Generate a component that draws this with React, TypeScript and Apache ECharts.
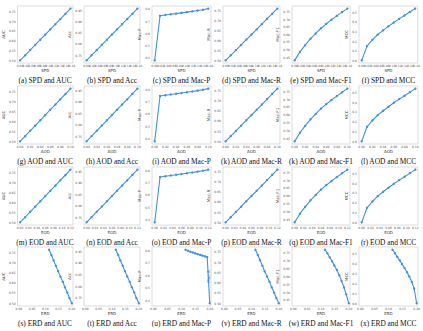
import React, { useEffect, useRef } from "react";
import * as echarts from "echarts";

// Fairness metric values at the 11 mitigation levels
const SPD = [0.0, 0.0175, 0.035, 0.0525, 0.07, 0.0875, 0.105, 0.1225, 0.14, 0.1575, 0.175];
const AOD = [0.0, 0.01, 0.02, 0.03, 0.04, 0.05, 0.06, 0.07, 0.08, 0.09, 0.1];
const EOD = [0.0, 0.012, 0.024, 0.036, 0.048, 0.06, 0.072, 0.084, 0.096, 0.108, 0.12];
const ERD = [0.2, 0.191, 0.183, 0.174, 0.166, 0.157, 0.148, 0.14, 0.131, 0.123, 0.114];

// Performance metric values at the same levels
const AUC = [0.5, 0.526, 0.553, 0.579, 0.606, 0.632, 0.659, 0.685, 0.712, 0.738, 0.765];
const ACC = [0.728, 0.751, 0.774, 0.797, 0.82, 0.843, 0.866, 0.889, 0.912, 0.935, 0.958];
const MAC_P = [0.38, 0.746, 0.752, 0.758, 0.764, 0.77, 0.776, 0.782, 0.789, 0.796, 0.805];
const MAC_R = [0.5, 0.526, 0.552, 0.578, 0.605, 0.631, 0.657, 0.683, 0.71, 0.736, 0.762];
const MAC_F1 = [0.43, 0.486, 0.53, 0.572, 0.607, 0.641, 0.67, 0.697, 0.722, 0.747, 0.77];
const MCC = [0.0, 0.15, 0.215, 0.27, 0.315, 0.357, 0.397, 0.435, 0.47, 0.507, 0.543];

const FAIR_NAMES = ["SPD", "AOD", "EOD", "ERD"];
const FAIR_VALUES = [SPD, AOD, EOD, ERD];
const PERF_NAMES = ["AUC", "Acc", "Mac-P", "Mac-R", "Mac-F1", "MCC"];
const PERF_VALUES = [AUC, ACC, MAC_P, MAC_R, MAC_F1, MCC];
const LETTERS = [
  "a", "b", "c", "d", "e", "f",
  "g", "h", "i", "k", "k", "l",
  "m", "n", "o", "p", "q", "r",
  "s", "t", "u", "v", "w", "x",
];

// layout
const COL_LEFT = [17, 84, 152, 223, 292, 359];
const COL_WIDTH = [56, 56, 59, 57, 58, 59];
const ROW_TOP = [6, 86, 167, 247];
const ROW_HEIGHT = [57, 58, 58, 59];
const CAPTION_Y = [80, 161, 242, 323];
const PERF_SPLIT = [5, 5, 5, 5, 7, 5];

const LINE = "#4192e0";

export default function App() {
  const ref = useRef<HTMLDivElement>(null);
  useEffect(() => {
    if (!ref.current) return;
    const chart = echarts.init(ref.current, null, { renderer: "svg" });
    const grids: any[] = [];
    const xAxes: any[] = [];
    const yAxes: any[] = [];
    const series: any[] = [];
    const graphics: any[] = [];
    const tickLabel = { fontSize: 3, color: "#555", fontFamily: "DejaVu Sans" };
    FAIR_NAMES.forEach((fname, r) => {
      PERF_NAMES.forEach((pname, c) => {
        const idx = r * 6 + c;
        grids.push({
          left: COL_LEFT[c],
          top: ROW_TOP[r],
          width: COL_WIDTH[c],
          height: ROW_HEIGHT[r],
          show: true,
          borderColor: "#cfcfcf",
          borderWidth: 0.7,
          backgroundColor: "#fff",
          containLabel: false,
        });
        const isERD = fname === "ERD";
        xAxes.push({
          type: "value",
          gridIndex: idx,
          name: fname,
          nameLocation: "middle",
          nameGap: 5,
          nameTextStyle: { fontSize: 4, color: "#333", fontFamily: "DejaVu Sans" },
          min: isERD ? -0.005 : (v: any) => v.min - (v.max - v.min) * 0.05,
          max: isERD ? 0.2045 : (v: any) => v.max + (v.max - v.min) * 0.05,
          splitNumber: isERD ? 4 : fname === "SPD" ? 9 : fname === "AOD" ? 5 : 6,
          axisLine: { show: false },
          axisTick: { show: false },
          splitLine: { show: false },
          axisLabel: {
            ...tickLabel,
            margin: 1.5,
            showMinLabel: false,
            showMaxLabel: false,
            formatter: (v: number) => v.toFixed(2),
          },
        });
        yAxes.push({
          type: "value",
          gridIndex: idx,
          name: pname,
          nameLocation: "middle",
          nameGap: 10,
          nameRotate: 90,
          nameTextStyle: { fontSize: 4, color: "#333", fontFamily: "DejaVu Sans" },
          min: (v: any) => v.min - (v.max - v.min) * 0.05,
          max: (v: any) => v.max + (v.max - v.min) * 0.05,
          splitNumber: PERF_SPLIT[c],
          axisLine: { show: false },
          axisTick: { show: false },
          splitLine: { show: false },
          axisLabel: {
            ...tickLabel,
            margin: 2,
            showMinLabel: false,
            showMaxLabel: false,
            formatter: (v: number) =>
              pname === "Mac-P" || pname === "MCC" ? v.toFixed(1) : v.toFixed(2),
          },
        });
        const xs = FAIR_VALUES[r];
        const ys = PERF_VALUES[c];
        series.push({
          type: "line",
          xAxisIndex: idx,
          yAxisIndex: idx,
          data: xs.map((x, i) => [x, ys[i]]),
          symbol: "circle",
          symbolSize: 2.4,
          showSymbol: true,
          lineStyle: { color: LINE, width: 1.1 },
          itemStyle: { color: LINE },
          silent: true,
        });
        graphics.push({
          type: "text",
          x: COL_LEFT[c] + COL_WIDTH[c] / 2,
          y: CAPTION_Y[r],
          style: {
            text: `(${LETTERS[idx]}) ${fname} and ${pname}`,
            textAlign: "center",
            textVerticalAlign: "middle",
            font: '7.4px "Liberation Serif"',
            fill: "#111",
          },
        });
      });
    });
    chart.setOption({
      animation: false,
      backgroundColor: "#fff",
      grid: grids,
      xAxis: xAxes,
      yAxis: yAxes,
      series,
      graphic: graphics,
    });
    return () => chart.dispose();
  }, []);
  return (
    <div
      ref={ref}
      style={{ position: "fixed", left: 0, top: 0, width: 423, height: 331, background: "#fff" }}
    />
  );
}
